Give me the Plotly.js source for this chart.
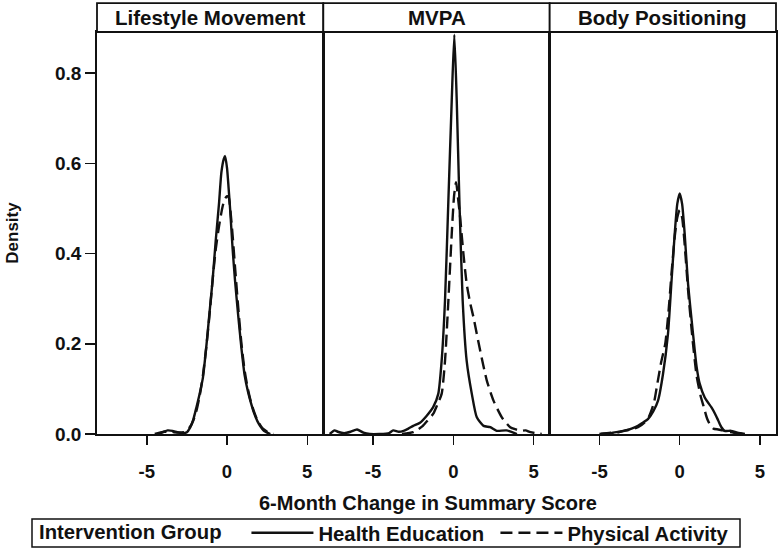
<!DOCTYPE html>
<html>
<head>
<meta charset="utf-8">
<script src="https://cdn.plot.ly/plotly-3.0.1.min.js"></script>
<style>html,body{margin:0;padding:0;background:#fff;}#chart{width:780px;height:551px;}</style>
</head>
<body>
<div id="chart"></div>
<script>
// Panels and groups
var panels = ["Lifestyle Movement", "MVPA", "Body Positioning"];
var groups = ["Health Education", "Physical Activity"];
var legendTitle = "Intervention Group";
var xTitle = "6-Month Change in Summary Score";
var yTitle = "Density";
var xTicks = [-5, 0, 5];
var yTicks = [0, 0.2, 0.4, 0.6, 0.8];

// Lifestyle Movement
var lmHeX = [-4.3,-4.0,-3.7,-3.4,-3.1,-2.8,-2.5,-2.3,-2.1,-1.9,-1.7,-1.5,-1.3,-1.1,-0.9,-0.7,-0.5,-0.35,-0.2,-0.12,0.0,0.1,0.2,0.35,0.5,0.7,0.9,1.1,1.3,1.5,1.7,1.9,2.1,2.3,2.5,2.7];
var lmHeY = [0,0.004,0.008,0.007,0.004,0.002,0.004,0.014,0.032,0.06,0.09,0.125,0.19,0.265,0.34,0.43,0.51,0.58,0.61,0.616,0.59,0.545,0.495,0.41,0.34,0.262,0.19,0.13,0.095,0.068,0.045,0.028,0.016,0.007,0.003,0];
var lmPaX = [-4.5,-4.2,-3.9,-3.6,-3.3,-3.0,-2.7,-2.5,-2.3,-2.1,-1.9,-1.7,-1.5,-1.3,-1.1,-0.9,-0.7,-0.5,-0.3,-0.15,0.0,0.1,0.2,0.35,0.5,0.7,0.9,1.1,1.3,1.5,1.7,1.9,2.1,2.3,2.5,2.7,2.9];
var lmPaY = [0,0.003,0.005,0.006,0.004,0.003,0.004,0.008,0.016,0.03,0.052,0.085,0.13,0.19,0.26,0.34,0.41,0.46,0.5,0.52,0.527,0.525,0.5,0.44,0.37,0.28,0.2,0.14,0.1,0.07,0.048,0.03,0.018,0.01,0.005,0.002,0];

// MVPA
var mvHeX = [-7.7,-7.4,-7.2,-6.8,-6.4,-6.0,-5.6,-5.2,-4.6,-4.0,-3.75,-3.4,-3.1,-2.8,-2.5,-2.08,-1.67,-1.25,-0.94,-0.73,-0.52,-0.31,-0.1,0.06,0.21,0.375,0.58,0.83,1.15,1.46,1.88,2.3,2.7,3.3,3.96];
var mvHeY = [0,0.008,0.005,0.002,0.005,0.01,0.003,0,0,0.002,0.008,0.005,0.007,0.012,0.018,0.025,0.04,0.06,0.089,0.162,0.296,0.518,0.74,0.885,0.74,0.518,0.296,0.162,0.089,0.037,0.018,0.015,0.007,0.008,0];
var mvPaX = [-3.2,-2.5,-2.2,-1.9,-1.6,-1.25,-1.0,-0.73,-0.52,-0.31,-0.1,0.05,0.17,0.3,0.42,0.625,0.83,1.05,1.25,1.67,2.08,2.5,3.02,3.54,3.9,4.17,4.5,4.8,5.5];
var mvPaY = [0,0.004,0.01,0.018,0.03,0.045,0.065,0.089,0.162,0.296,0.444,0.53,0.558,0.52,0.481,0.4,0.333,0.29,0.259,0.185,0.119,0.074,0.037,0.015,0.01,0.007,0.008,0.004,0];

// Body Positioning
var bpHeX = [-4.9,-4.27,-3.8,-3.44,-3.0,-2.6,-2.3,-1.98,-1.65,-1.35,-1.04,-0.73,-0.52,-0.31,-0.15,0.0,0.15,0.31,0.52,0.83,1.05,1.25,1.56,1.8,1.98,2.2,2.4,2.6,2.8,3.2,3.6,4.06];
var bpHeY = [0,0.002,0.005,0.007,0.012,0.018,0.025,0.033,0.05,0.074,0.133,0.222,0.333,0.444,0.51,0.533,0.51,0.444,0.333,0.222,0.15,0.111,0.081,0.068,0.059,0.045,0.03,0.015,0.007,0.007,0.003,0];
var bpPaX = [-5.0,-4.3,-3.8,-3.4,-3.0,-2.6,-2.2,-1.9,-1.6,-1.4,-1.15,-0.9,-0.7,-0.5,-0.3,-0.15,0.0,0.15,0.31,0.52,0.8,1.05,1.3,1.5,1.7,1.9,2.1,2.4,2.7,3.0,3.5,3.9];
var bpPaY = [0,0.003,0.004,0.008,0.01,0.015,0.025,0.04,0.07,0.11,0.16,0.2,0.27,0.36,0.44,0.48,0.496,0.48,0.42,0.32,0.21,0.13,0.085,0.06,0.035,0.02,0.012,0.01,0.008,0.005,0.002,0];

var FONT = "Liberation Sans, Arial, sans-serif";
var INK = "#111111";

var series = [
  [[lmHeX, lmHeY], [lmPaX, lmPaY]],
  [[mvHeX, mvHeY], [mvPaX, mvPaY]],
  [[bpHeX, bpHeY], [bpPaX, bpPaY]]
];

var traces = [];
for (var p = 0; p < 3; p++) {
  for (var g = 0; g < 2; g++) {
    traces.push({
      type: "scatter", mode: "lines",
      x: series[p][g][0], y: series[p][g][1],
      xaxis: p === 0 ? "x" : "x" + (p + 1),
      yaxis: p === 0 ? "y" : "y" + (p + 1),
      name: groups[g], legendgroup: groups[g],
      showlegend: p === 0,
      line: {color: INK, width: 2.4, dash: g === 0 ? "solid" : "12px,6px", shape: "spline", smoothing: 0.6},
      hoverinfo: "skip"
    });
  }
}

function f(size) { return {family: FONT, size: size, color: INK, weight: "bold"}; }

var W = 780, H = 551;
var doms = [[0, 0.3333], [0.3333, 0.6667], [0.6667, 1]];
var plotH = H - 32 - 117, plotW = W - 97 - 4;
function py(pix) { return (434 - pix) / plotH; }
function px(pix) { return (pix - 97) / plotW; }

var layout = {
  width: W, height: H,
  margin: {l: 97, r: 4, t: 32, b: 117, autoexpand: false},
  paper_bgcolor: "#fff", plot_bgcolor: "#fff",
  font: f(18),
  showlegend: true,
  legend: {
    orientation: "h", xref: "container", yref: "container",
    x: 37 / W, xanchor: "left", y: (H - 533) / H, yanchor: "middle",
    borderwidth: 0, bgcolor: "rgba(0,0,0,0)",
    font: f(20.3),
    title: {text: legendTitle + "&nbsp;&nbsp;&nbsp;", side: "left", font: f(20.3)},
    entrywidth: 172, itemwidth: 62, tracegroupgap: 0
  },
  shapes: [{
    type: "rect", xref: "paper", yref: "paper",
    x0: px(32), x1: px(740), y0: py(519), y1: py(547),
    line: {color: INK, width: 1.5}, fillcolor: "rgba(0,0,0,0)", layer: "below"
  }],
  annotations: []
};

for (var i = 0; i < 3; i++) {
  var xa = i === 0 ? "xaxis" : "xaxis" + (i + 1);
  var ya = i === 0 ? "yaxis" : "yaxis" + (i + 1);
  layout[xa] = {
    domain: doms[i], range: [-8.1, 6.0], anchor: i === 0 ? "y" : "y" + (i + 1),
    tickmode: "array", tickvals: xTicks, ticktext: xTicks.map(String),
    ticks: "outside", ticklen: 9, tickwidth: 1.5, tickcolor: INK,
    ticklabelstandoff: 11,
    showline: true, linecolor: INK, linewidth: 1.8, mirror: true,
    showgrid: false, zeroline: false,
    tickfont: f(18.5)
  };
  layout[ya] = {
    domain: [0, 1], range: [0, 0.891], anchor: i === 0 ? "x" : "x" + (i + 1),
    showline: true, linecolor: INK, linewidth: 1.8, mirror: true,
    showgrid: false, zeroline: false
  };
  if (i === 0) {
    Object.assign(layout[ya], {
      tickmode: "array", tickvals: yTicks, ticktext: yTicks.map(function (v) { return v.toFixed(1); }),
      ticks: "outside", ticklen: 10, tickwidth: 1.5, tickcolor: INK,
      ticklabelstandoff: 0,
      tickfont: f(19),
      title: {text: yTitle, standoff: 32, font: f(17)}
    });
  } else {
    Object.assign(layout[ya], {matches: "y", showticklabels: false, ticks: ""});
  }
  layout.shapes.push({
    type: "rect", xref: "paper", yref: "paper",
    x0: doms[i][0], x1: doms[i][1], y0: 1, y1: 1.072,
    line: {color: INK, width: 1.8}, fillcolor: "#fff", layer: "above"
  });
  layout.annotations.push({
    text: panels[i], xref: "paper", yref: "paper",
    x: (doms[i][0] + doms[i][1]) / 2, y: 1.036, xanchor: "center", yanchor: "middle",
    showarrow: false, font: f(20.5)
  });
}
layout.annotations.push({
  text: xTitle, xref: "paper", yref: "paper", x: 0.488, y: py(503),
  xanchor: "center", yanchor: "middle", showarrow: false,
  font: f(20)
});

Plotly.newPlot("chart", traces, layout, {displayModeBar: false, staticPlot: true});
</script>
</body>
</html>
